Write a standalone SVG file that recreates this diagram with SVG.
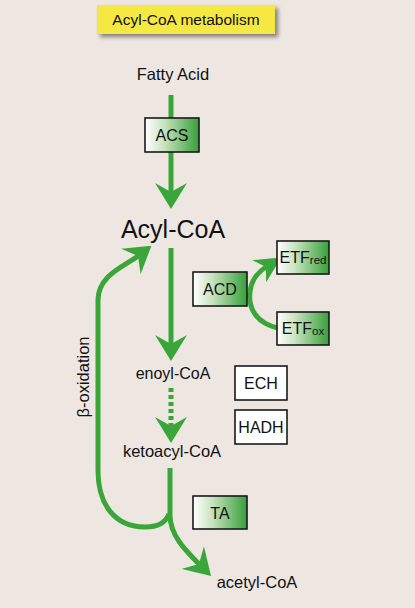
<svg xmlns="http://www.w3.org/2000/svg" width="415" height="608" viewBox="0 0 415 608">
<defs>
<linearGradient id="gbox" x1="0" y1="0" x2="1" y2="0">
<stop offset="0" stop-color="#ffffff"/>
<stop offset="0.35" stop-color="#c9e3c0"/>
<stop offset="1" stop-color="#36a03a"/>
</linearGradient>
<filter id="shadow" x="-10%" y="-30%" width="130%" height="180%">
<feGaussianBlur in="SourceAlpha" stdDeviation="2"/>
<feOffset dx="3" dy="3" result="b"/>
<feComponentTransfer><feFuncA type="linear" slope="0.45"/></feComponentTransfer>
<feMerge><feMergeNode/><feMergeNode in="SourceGraphic"/></feMerge>
</filter>
<marker id="arrow" markerUnits="userSpaceOnUse" viewBox="0 0 26 32" markerWidth="26" markerHeight="32" refX="9" refY="16" orient="auto">
<path d="M0,0 L26,16 L0,32 L9,16 Z" fill="#3aa63a"/>
</marker>
<marker id="arrowS" markerUnits="userSpaceOnUse" viewBox="0 0 26 26" markerWidth="26" markerHeight="26" refX="8" refY="13" orient="auto">
<path d="M0,0 L26,13 L0,26 L8,13 Z" fill="#3aa63a"/>
</marker>
</defs>
<style>
.t{font-family:"Liberation Sans",Arial,sans-serif;fill:#111111}
.box{fill:url(#gbox);stroke:#1a1a1a;stroke-width:1.6}
.wbox{fill:#ffffff;stroke:#1a1a1a;stroke-width:1.6}
.ln{fill:none;stroke:#3aa63a;stroke-width:5}
.bl{font-size:16px}
</style>
<rect width="415" height="608" fill="#ede6e1"/>
<g id="title">
<rect x="97" y="5" width="178" height="29" fill="#f6e842" filter="url(#shadow)"/>
<text class="t" x="186" y="25" font-size="15.5" text-anchor="middle">Acyl-CoA metabolism</text>
</g>
<g id="connectors">
<path class="ln" d="M171,95 L171,192" marker-end="url(#arrow)"/>
<path class="ln" d="M171,248 L171,344" marker-end="url(#arrow)"/>
<path class="ln" d="M171,388 L171,426" stroke-dasharray="4 3" marker-end="url(#arrow)"/>
<path class="ln" d="M170,468 L170,515 C170,535 185,550 199,564" marker-end="url(#arrow)"/>
<path class="ln" d="M169,514 C165,524 157,527 145,527 C115,527 98,505 98,470 L98,300 C98,275 125,266 138,256" marker-end="url(#arrow)"/>
<path class="ln" d="M278,328 C256,323 248,308 250,292 C251,281 258,272 266,267" marker-end="url(#arrowS)"/>
</g>
<g id="fatty-acid"><text class="t" x="173" y="80" font-size="16.5" text-anchor="middle">Fatty Acid</text></g>
<g id="acs"><rect class="box" x="145" y="118" width="54" height="34"/><text class="t bl" x="172" y="141" text-anchor="middle">ACS</text></g>
<g id="acyl-coa"><text class="t" x="173" y="238" font-size="25" text-anchor="middle">Acyl-CoA</text></g>
<g id="acd"><rect class="box" x="193" y="272" width="54" height="34"/><text class="t bl" x="220" y="295" text-anchor="middle">ACD</text></g>
<g id="etf-red"><rect class="box" x="277" y="241" width="52" height="33"/><text class="t" x="303" y="263" font-size="16" text-anchor="middle">ETF<tspan font-size="11.5" dy="1">red</tspan></text></g>
<g id="etf-ox"><rect class="box" x="277" y="312" width="52" height="33"/><text class="t" x="303" y="334" font-size="16" text-anchor="middle">ETF<tspan font-size="11.5" dy="1">ox</tspan></text></g>
<g id="enoyl-coa"><text class="t" x="173" y="379" font-size="16" text-anchor="middle">enoyl-CoA</text></g>
<g id="ech"><rect class="wbox" x="235" y="366" width="52" height="34"/><text class="t bl" x="261" y="389" text-anchor="middle">ECH</text></g>
<g id="hadh"><rect class="wbox" x="235" y="410" width="52" height="34"/><text class="t bl" x="261" y="433" text-anchor="middle">HADH</text></g>
<g id="ketoacyl-coa"><text class="t" x="172" y="457" font-size="16.5" text-anchor="middle">ketoacyl-CoA</text></g>
<g id="ta"><rect class="box" x="193" y="496" width="54" height="33"/><text class="t bl" x="220" y="519" text-anchor="middle">TA</text></g>
<g id="acetyl-coa"><text class="t" x="257" y="588" font-size="16.5" text-anchor="middle">acetyl-CoA</text></g>
<g id="beta-oxidation"><text class="t" x="0" y="0" font-size="16.5" text-anchor="middle" transform="translate(89,377) rotate(-90)">β-oxidation</text></g>
</svg>
